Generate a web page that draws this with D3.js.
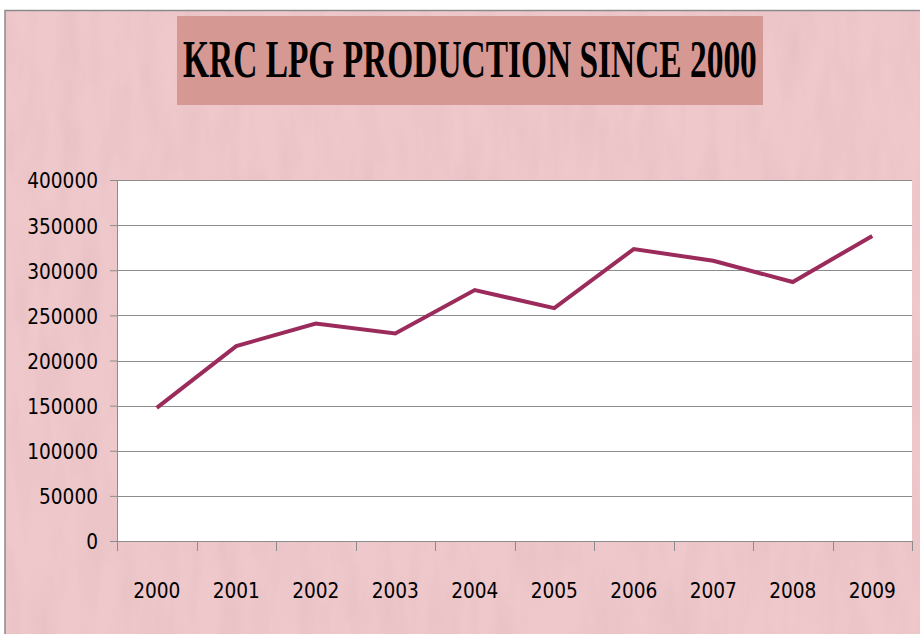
<!DOCTYPE html>
<html>
<head>
<meta charset="utf-8">
<script src="https://cdn.jsdelivr.net/npm/d3@7"></script>
<style>
  body { margin: 0; background: #fff; }
  svg { display: block; }
</style>
</head>
<body>
<div id="chart"></div>
<script>
// years and production
var years = ["2000", "2001", "2002", "2003", "2004", "2005", "2006", "2007", "2008", "2009"];
var production = [147500, 216000, 241000, 230000, 278000, 258000, 323500, 310500, 287000, 338000];
var yTicks = [0, 50000, 100000, 150000, 200000, 250000, 300000, 350000, 400000];
var title = "KRC LPG PRODUCTION SINCE 2000";

var W = 920, H = 634;
var margin = {top: 180, right: 8, bottom: 93, left: 117 },
    width = W - (margin.left + margin.right),
    height = H - (margin.top + margin.bottom);

var svg = d3.select("#chart")
  .append("svg")
    .attr("width", W)
    .attr("height", H);

// textured pink backdrop
var defs = svg.append("defs");
var f = defs.append("filter").attr("id", "grain")
  .attr("x", 0).attr("y", 0).attr("width", 1).attr("height", 1);
f.append("feTurbulence")
  .attr("type", "fractalNoise")
  .attr("baseFrequency", "0.05 0.012")
  .attr("numOctaves", 3)
  .attr("seed", 4);
f.append("feColorMatrix")
  .attr("type", "matrix")
  .attr("values", "0 0 0 0 0.6  0 0 0 0 0.35  0 0 0 0 0.38  1.2 0 0 0 -0.45");
f.append("feComposite").attr("in2", "SourceGraphic").attr("operator", "in");

svg.append("rect")
  .attr("x", 5).attr("y", 10)
  .attr("width", W).attr("height", H)
  .attr("fill", "#eec8cb");
svg.append("rect")
  .attr("x", 5).attr("y", 10)
  .attr("width", W).attr("height", H)
  .attr("fill", "#eec8cb")
  .attr("filter", "url(#grain)")
  .attr("opacity", 0.25);
svg.append("path")
  .attr("d", "M5," + H + "V10.5H" + W)
  .attr("fill", "none")
  .attr("stroke", "#8a8a8a")
  .attr("stroke-width", 1.5);

// title box, title squeezed to fit like the original condensed face
svg.append("rect")
  .attr("x", 177).attr("y", 16)
  .attr("width", 586).attr("height", 89)
  .attr("fill", "#d69893");
var tg = svg.append("g");
var tt = tg.append("text")
  .attr("x", 0).attr("y", 0)
  .style("font-family", "'Liberation Serif', 'Times New Roman', serif")
  .style("font-weight", "bold")
  .style("font-size", "53px")
  .attr("fill", "#000")
  .text(title);
var sx = 574 / tt.node().getComputedTextLength();
tg.attr("transform", "translate(183,77) scale(" + sx + ",1)");

var g = svg.append("g")
  .attr("transform", "translate(" + margin.left + "," + margin.top + ")");

var x = d3.scaleBand().domain(years).range([0, width]);
var y = d3.scaleLinear().domain([0, 400000]).range([height, 0]);

// plot area
g.append("rect")
  .attr("width", width).attr("height", height)
  .attr("fill", "#fff");

// gridlines
g.selectAll(".grid")
  .data(yTicks.filter(function(d) { return d > 0; }))
  .enter().append("line")
    .attr("class", "grid")
    .attr("x1", 0).attr("x2", width)
    .attr("y1", function(d) { return Math.round(y(d)) + 0.5; })
    .attr("y2", function(d) { return Math.round(y(d)) + 0.5; })
    .attr("stroke", "#8c8c8c")
    .attr("stroke-width", 1);

var tickFont = "'DejaVu Sans Condensed', 'Liberation Sans Narrow', sans-serif";

function styleLabels(sel) {
  sel.style("font-family", tickFont)
    .style("font-size", "22px")
    .attr("fill", "#000")
    .attr("textLength", function() { return this.textContent.length * 11.8; })
    .attr("lengthAdjust", "spacingAndGlyphs");
}

// Y axis
var yAxis = g.append("g")
  .call(d3.axisLeft(y).tickValues(yTicks).tickSize(7).tickPadding(12).tickFormat(d3.format("d")));
yAxis.select(".domain").attr("stroke", "#8c8c8c");
yAxis.selectAll(".tick line").attr("stroke", "#8c8c8c");
yAxis.selectAll("text").attr("dy", "0.36em").call(styleLabels);

// X axis, ticks on band edges
var xAxis = g.append("g")
  .attr("transform", "translate(0," + height + ")")
  .call(d3.axisBottom(x).tickSize(0).tickPadding(41));
xAxis.select(".domain").attr("stroke", "#8c8c8c").attr("d", "M-6,0.5H" + width);
xAxis.selectAll("text").call(styleLabels);
g.selectAll(".xedge")
  .data(years.concat(["end"]))
  .enter().append("line")
    .attr("class", "xedge")
    .attr("x1", function(d, i) { return Math.round(i * x.step()) + 0.5; })
    .attr("x2", function(d, i) { return Math.round(i * x.step()) + 0.5; })
    .attr("y1", height)
    .attr("y2", height + 10)
    .attr("stroke", "#8c8c8c");

// line
g.append("path")
  .datum(production)
  .attr("fill", "none")
  .attr("stroke", "#9b2b5b")
  .attr("stroke-width", 4)
  .attr("stroke-linejoin", "miter")
  .attr("d", d3.line()
    .x(function(d, i) { return x(years[i]) + x.bandwidth() / 2; })
    .y(function(d) { return y(d); }));
</script>
</body>
</html>
